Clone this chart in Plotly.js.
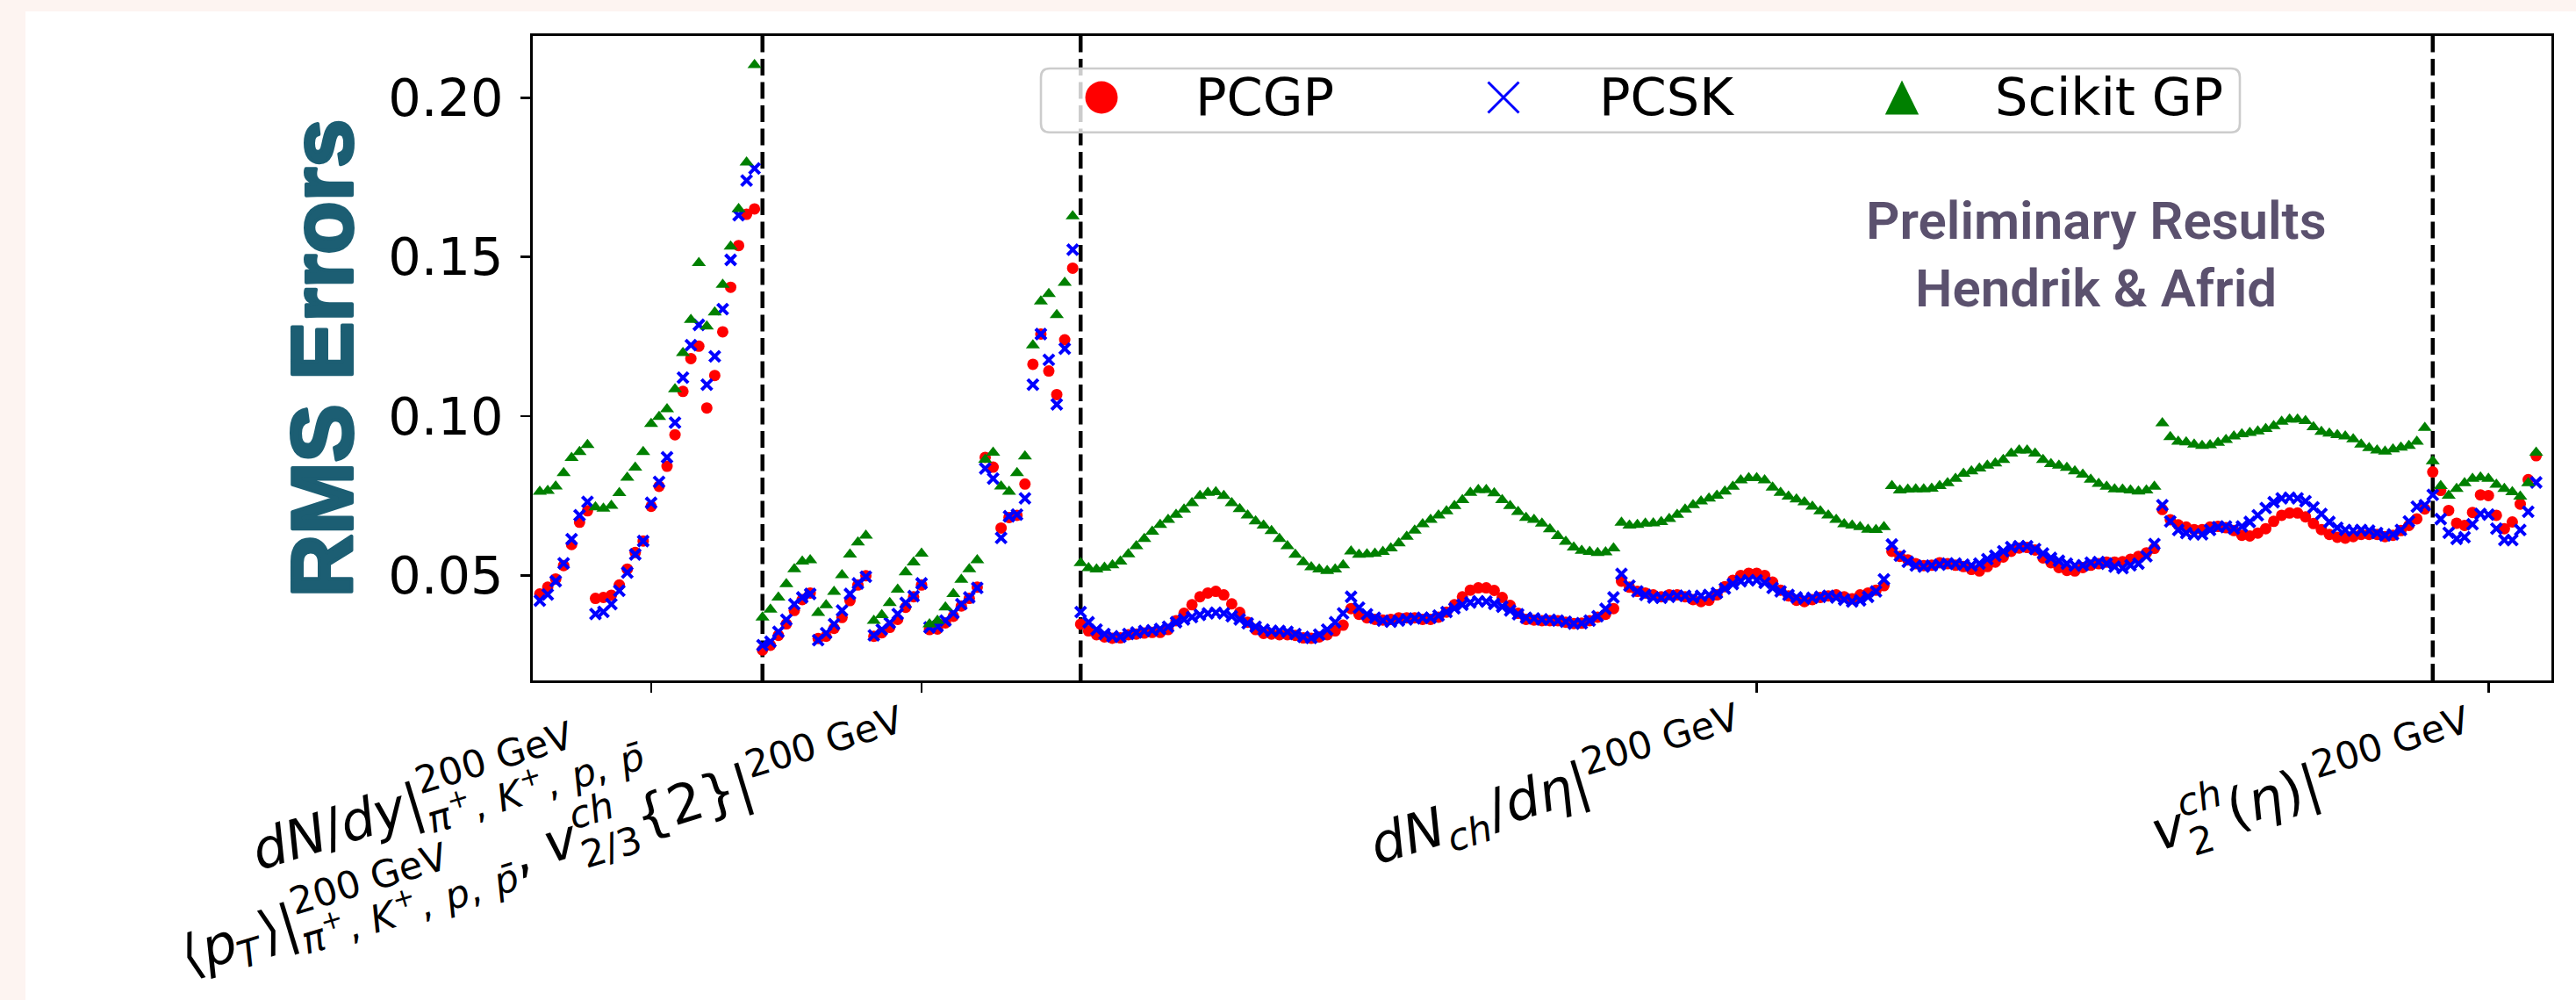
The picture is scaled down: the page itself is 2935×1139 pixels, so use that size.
<!DOCTYPE html>
<html>
<head>
<meta charset="utf-8">
<script src="https://cdn.plot.ly/plotly-3.0.1.min.js"></script>
<style>
html,body{margin:0;padding:0;background:#fdf4f1;width:2935px;height:1139px;overflow:hidden;}
#chart{position:absolute;left:29px;top:13px;width:2906px;height:1126px;background:#ffffff;}
#chart .ytitle{stroke:#1c5e73;stroke-width:4px;stroke-linejoin:round;}
</style>
</head>
<body>
<div id="chart"></div>
<script>
// ---------------- DATA (RMS errors per observable bin) ----------------
// Section 1: dN/dy (pi+, K+, p, pbar) x 7 centralities
const pcgp_dNdy = [0.0442,0.0463,0.0489,0.0531,0.0597,0.0667,0.0703, 0.0428,0.0431,0.0438,0.0470,0.0520,0.0572,0.0608, 0.0717,0.0780,0.0843,0.0942,0.1078,0.1181,0.1220, 0.1026,0.1128,0.1265,0.1405,0.1536,0.1634,0.1651];
const pcsk_dNdy = [0.0421,0.0440,0.0482,0.0538,0.0614,0.0689,0.0731, 0.0379,0.0386,0.0410,0.0452,0.0509,0.0566,0.0608, 0.0728,0.0794,0.0871,0.0980,0.1121,0.1223,0.1287, 0.1099,0.1188,0.1336,0.1491,0.1631,0.1740,0.1778];
const skgp_dNdy = [0.0763,0.0766,0.0780,0.0822,0.0869,0.0888,0.0910, 0.0714,0.0710,0.0719,0.0759,0.0807,0.0839,0.0888, 0.0976,0.0998,0.1022,0.1085,0.1199,0.1303,0.1481, 0.1282,0.1326,0.1413,0.1533,0.1651,0.1797,0.2103];

// Section 2: <pT> (pi+, K+, p, pbar) x 7, v2{2} x 6, v3{2} x 6
const pcgp_meanpT_vn = [0.0266,0.0281,0.0312,0.0348,0.0390,0.0424,0.0445, 0.0302,0.0309,0.0334,0.0368,0.0421,0.0470,0.0499, 0.0309,0.0320,0.0337,0.0362,0.0400,0.0433,0.0470, 0.0330,0.0332,0.0351,0.0372,0.0404,0.0428,0.0463, 0.0871,0.0840,0.0649,0.0682,0.0689,0.0787, 0.1163,0.1258,0.1142,0.1068,0.1240,0.1465];
const pcsk_meanpT_vn = [0.0281,0.0292,0.0323,0.0361,0.0410,0.0431,0.0442, 0.0297,0.0319,0.0347,0.0390,0.0442,0.0475,0.0496, 0.0312,0.0330,0.0351,0.0379,0.0414,0.0435,0.0475, 0.0337,0.0340,0.0358,0.0382,0.0410,0.0431,0.0461, 0.0836,0.0804,0.0618,0.0686,0.0691,0.0742, 0.1099,0.1258,0.1177,0.1037,0.1212,0.1523];
const skgp_meanpT_vn = [0.0368,0.0393,0.0431,0.0473,0.0520,0.0544,0.0548, 0.0383,0.0407,0.0449,0.0501,0.0566,0.0604,0.0625, 0.0358,0.0376,0.0414,0.0456,0.0510,0.0541,0.0569, 0.0347,0.0358,0.0400,0.0442,0.0487,0.0520,0.0548, 0.0864,0.0886,0.0780,0.0763,0.0822,0.0874, 0.1223,0.1361,0.1384,0.1318,0.1419,0.1628];

// Section 3: dNch/deta, 5 centralities x 34 eta bins
const pcgp_dNchdeta = [
 0.0347,0.0326,0.0314,0.0307,0.0303,0.0304,0.0314,0.0316,0.0319,0.0321,0.0321,0.0330,0.0358,0.0381,0.0408,0.0433,0.0445,0.0450,0.0439,0.0411,0.0384,0.0353,0.0330,0.0318,0.0316,0.0314,0.0314,0.0312,0.0304,0.0303,0.0307,0.0314,0.0326,0.0344,
 0.0396,0.0378,0.0367,0.0362,0.0360,0.0362,0.0367,0.0367,0.0367,0.0362,0.0362,0.0369,0.0385,0.0408,0.0433,0.0454,0.0461,0.0461,0.0453,0.0431,0.0406,0.0381,0.0362,0.0360,0.0358,0.0358,0.0358,0.0353,0.0349,0.0350,0.0358,0.0369,0.0378,0.0396,
 0.0482,0.0463,0.0450,0.0445,0.0439,0.0433,0.0439,0.0439,0.0433,0.0424,0.0418,0.0422,0.0439,0.0465,0.0485,0.0500,0.0507,0.0507,0.0500,0.0479,0.0454,0.0436,0.0422,0.0418,0.0424,0.0431,0.0436,0.0439,0.0433,0.0427,0.0439,0.0445,0.0454,0.0468,
 0.0576,0.0560,0.0549,0.0537,0.0531,0.0532,0.0540,0.0537,0.0532,0.0528,0.0519,0.0514,0.0528,0.0542,0.0558,0.0576,0.0586,0.0588,0.0580,0.0555,0.0540,0.0525,0.0516,0.0514,0.0525,0.0532,0.0537,0.0542,0.0542,0.0543,0.0551,0.0560,0.0571,0.0585,
 0.0707,0.0675,0.0659,0.0652,0.0644,0.0644,0.0652,0.0654,0.0650,0.0641,0.0626,0.0624,0.0633,0.0647,0.0670,0.0689,0.0696,0.0696,0.0684,0.0663,0.0644,0.0629,0.0620,0.0617,0.0622,0.0629,0.0629,0.0629,0.0622,0.0626,0.0641,0.0657,0.0678,0.0709];
const pcsk_dNchdeta = [
 0.0385,0.0353,0.0330,0.0316,0.0309,0.0307,0.0316,0.0321,0.0326,0.0328,0.0332,0.0339,0.0353,0.0362,0.0369,0.0376,0.0381,0.0383,0.0381,0.0372,0.0362,0.0350,0.0339,0.0330,0.0326,0.0326,0.0323,0.0316,0.0307,0.0304,0.0314,0.0330,0.0353,0.0381,
 0.0433,0.0399,0.0378,0.0367,0.0358,0.0355,0.0358,0.0362,0.0365,0.0367,0.0367,0.0374,0.0385,0.0397,0.0408,0.0415,0.0419,0.0418,0.0411,0.0402,0.0390,0.0378,0.0367,0.0365,0.0362,0.0361,0.0358,0.0355,0.0349,0.0350,0.0358,0.0372,0.0395,0.0431,
 0.0505,0.0468,0.0450,0.0439,0.0431,0.0430,0.0433,0.0436,0.0436,0.0431,0.0436,0.0439,0.0445,0.0459,0.0473,0.0482,0.0485,0.0485,0.0477,0.0461,0.0450,0.0439,0.0431,0.0427,0.0430,0.0433,0.0436,0.0431,0.0424,0.0418,0.0422,0.0433,0.0450,0.0488,
 0.0597,0.0562,0.0543,0.0531,0.0528,0.0531,0.0534,0.0537,0.0537,0.0534,0.0531,0.0537,0.0551,0.0562,0.0576,0.0589,0.0592,0.0592,0.0583,0.0569,0.0555,0.0546,0.0537,0.0531,0.0532,0.0540,0.0542,0.0537,0.0528,0.0523,0.0532,0.0537,0.0560,0.0599,
 0.0721,0.0670,0.0643,0.0633,0.0629,0.0629,0.0643,0.0652,0.0654,0.0647,0.0654,0.0668,0.0689,0.0712,0.0730,0.0742,0.0744,0.0742,0.0733,0.0714,0.0693,0.0668,0.0650,0.0643,0.0641,0.0643,0.0641,0.0633,0.0626,0.0629,0.0643,0.0670,0.0716,0.0721];
const skgp_dNchdeta = [
 0.0539,0.0523,0.0519,0.0525,0.0532,0.0544,0.0567,0.0592,0.0615,0.0638,0.0659,0.0675,0.0691,0.0707,0.0727,0.0750,0.0760,0.0762,0.0750,0.0727,0.0709,0.0689,0.0670,0.0657,0.0640,0.0615,0.0592,0.0565,0.0542,0.0526,0.0519,0.0514,0.0519,0.0532,
 0.0576,0.0565,0.0567,0.0569,0.0574,0.0585,0.0601,0.0622,0.0641,0.0661,0.0675,0.0689,0.0702,0.0718,0.0737,0.0760,0.0769,0.0769,0.0758,0.0737,0.0718,0.0700,0.0681,0.0675,0.0663,0.0645,0.0624,0.0606,0.0588,0.0578,0.0574,0.0571,0.0573,0.0585,
 0.0666,0.0657,0.0659,0.0663,0.0664,0.0668,0.0678,0.0691,0.0707,0.0721,0.0733,0.0742,0.0751,0.0764,0.0779,0.0799,0.0806,0.0806,0.0799,0.0776,0.0760,0.0748,0.0739,0.0730,0.0716,0.0702,0.0689,0.0675,0.0661,0.0657,0.0652,0.0644,0.0643,0.0652,
 0.0781,0.0767,0.0770,0.0771,0.0771,0.0773,0.0781,0.0790,0.0804,0.0820,0.0827,0.0836,0.0845,0.0852,0.0863,0.0883,0.0893,0.0893,0.0883,0.0863,0.0850,0.0845,0.0838,0.0827,0.0817,0.0801,0.0788,0.0779,0.0771,0.0770,0.0767,0.0764,0.0767,0.0779,
 0.0978,0.0935,0.0920,0.0918,0.0911,0.0907,0.0909,0.0917,0.0926,0.0937,0.0944,0.0948,0.0953,0.0960,0.0969,0.0983,0.0990,0.0990,0.0985,0.0966,0.0951,0.0946,0.0941,0.0937,0.0928,0.0911,0.0900,0.0893,0.0889,0.0896,0.0902,0.0907,0.0920,0.0964];

// Section 4: v2ch(eta), 14 bins
const pcgp_v2eta = [0.0825,0.0767,0.0704,0.0664,0.0657,0.0698,0.0753,0.0751,0.0689,0.0647,0.0668,0.0724,0.0801,0.0876];
const pcsk_v2eta = [0.0753,0.0677,0.0634,0.0615,0.0620,0.0661,0.0693,0.0691,0.0647,0.0611,0.0611,0.0643,0.0700,0.0792];
const skgp_v2eta = [0.0859,0.0781,0.0751,0.0772,0.0790,0.0804,0.0808,0.0804,0.0785,0.0772,0.0762,0.0748,0.0790,0.0886];

const seriesNames = ['PCGP', 'PCSK', 'Scikit GP'];
const yTickVals = [0.05, 0.10, 0.15, 0.20];
const yTickText = ['0.05', '0.10', '0.15', '0.20'];
const annotationLines = ['Preliminary Results', 'Hendrik &amp; Afrid'];

// tick label tokens (mathtext-like)
const R = t => ({t: t, it: false});
const I = t => ({t: t, it: true});
const SUP = (...a) => ({sup: a});
const SUB = (...a) => ({sub: a});
const ST = (a, b) => ({st: [a, b]});
const SP = em => ({sp: em});
const GEV = [R('200 GeV')];
const SPECIES = [I('π'), SUP(R('+')), R(','), SP(0.4), I('K'), SUP(R('+')), R(','), SP(0.4), I('p'), R(','), SP(0.4), I('p\u0304')];
const sectionLabels = [
  [I('dN'), R('/'), I('dy'), R('|'), ST(GEV, SPECIES)],
  [R('⟨'), I('p'), SUB(I('T')), R('⟩'), R('|'), ST(GEV, SPECIES), R(','), SP(0.32), I('v'), ST([I('ch')], [R('2/3')]),
   R('{2}'), R('|'), SUP(...GEV)],
  [I('dN'), SUB(I('ch')), R('/'), I('dη'), R('|'), SUP(...GEV)],
  [I('v'), ST([I('ch')], [R('2')]), R('('), I('η'), R(')'), R('|'), SUP(...GEV)]
];

// ---------------- GEOMETRY ----------------
const W = 2906, H = 1126;
const M = {l: 578, r: 28, t: 28, b: 364};
const plotW = W - M.l - M.r, plotH = H - M.t - M.b;
const px2x = X => (X - M.l) / plotW;
const py2y = Y => 1 - (Y - M.t) / plotH;

const sections = [
  [pcgp_dNdy, pcsk_dNdy, skgp_dNdy],
  [pcgp_meanpT_vn, pcsk_meanpT_vn, skgp_meanpT_vn],
  [pcgp_dNchdeta, pcsk_dNchdeta, skgp_dNchdeta],
  [pcgp_v2eta, pcsk_v2eta, skgp_v2eta]
];
const sizes = sections.map(s => s[0].length);
const starts = [];
sizes.reduce((acc, n) => { starts.push(acc); return acc + n; }, 0);
const total = sizes.reduce((a, b) => a + b, 0);
const tickVals = starts.map((s, i) => s + sizes[i] / 2);
const dividers = starts.slice(1);
const idx = Array.from({length: total}, (_, i) => i);

const seriesY = [0, 1, 2].map(k => [].concat(...sections.map(s => s[k])));

const traces = [
  {type: 'scatter', mode: 'markers', name: seriesNames[0], x: idx, y: seriesY[0],
   marker: {symbol: 'circle', size: 13, color: '#ff0000', line: {width: 0}}},
  {type: 'scatter', mode: 'markers', name: seriesNames[1], x: idx, y: seriesY[1],
   marker: {symbol: 'x-thin', size: 12, color: '#0000ff', line: {width: 4, color: '#0000ff'}}},
  {type: 'scatter', mode: 'markers', name: seriesNames[2], x: idx, y: seriesY[2],
   marker: {symbol: 'triangle-up', size: 14, color: '#008000', line: {width: 0}}}
];

// ---------------- TICK LABEL LAYOUT ----------------
const F = 61.5;
const ANG = 17;
const cnv = document.createElement('canvas').getContext('2d');
function measure(t, size, it) {
  cnv.font = (it ? 'italic ' : '') + size + 'px "DejaVu Sans"';
  const m = cnv.measureText(t);
  const asc = (m.fontBoundingBoxAscent !== undefined) ? m.fontBoundingBoxAscent : 0.928 * size;
  const desc = (m.fontBoundingBoxDescent !== undefined) ? m.fontBoundingBoxDescent : 0.236 * size;
  return {w: m.width, asc: asc, desc: desc};
}
const SS = 0.7, SUPR = 0.43, SUBD = 0.20, STUP = 0.48, STDN = 0.28;
function lay(items, size, up, x, out) {
  for (const it of items) {
    if (typeof it.t === 'string') {
      const m = measure(it.t, size, it.it);
      out.push({t: it.t, it: it.it, size: size, a: x, w: m.w, up: up, asc: m.asc, desc: m.desc});
      x += m.w;
    } else if (it.sp !== undefined) {
      x += it.sp * size;
    } else if (it.sup) {
      x = lay(it.sup, size * SS, up + SUPR * size, x, out) + 0.05 * size * SS;
    } else if (it.sub) {
      x = lay(it.sub, size * SS, up - SUBD * size, x, out) + 0.05 * size * SS;
    } else if (it.st) {
      const x1 = lay(it.st[0], size * SS, up + STUP * size, x, out);
      const x2 = lay(it.st[1], size * SS, up - STDN * size, x, out);
      x = Math.max(x1, x2) + 0.05 * size * SS;
    }
  }
  return x;
}
const TH = ANG * Math.PI / 180, cT = Math.cos(TH), sT = Math.sin(TH);
const GAP = 22.5;
const annotations = [];
sectionLabels.forEach((items, k) => {
  const pcs = [];
  const L = lay(items, F, 0, 0, pcs);
  let Ht = 0, Db = 0;
  pcs.forEach(p => { Ht = Math.max(Ht, p.up + 0.76 * p.size); Db = Math.max(Db, -p.up + 0.24 * p.size); });
  const Ox = -(L * cT + Db * sT);
  const Oy = GAP + L * sT + Ht * cT;
  pcs.forEach(p => {
    const ac = p.a + p.w / 2;
    const bc = -p.up - (p.asc - p.desc) / 2;
    const cx = Ox + ac * cT + bc * sT;
    const cy = Oy - ac * sT + bc * cT;
    annotations.push({xref: 'x', yref: 'paper', x: tickVals[k], y: 0, xshift: cx, yshift: -cy,
      text: p.it ? '<i>' + p.t + '</i>' : p.t, textangle: -ANG, showarrow: false,
      xanchor: 'center', yanchor: 'middle', borderpad: 0, borderwidth: 0,
      font: {family: 'DejaVu Sans', size: p.size, color: '#000000'}});
  });
});

// watermark text
annotations.push({xref: 'paper', yref: 'paper', x: px2x(2359), y: py2y(238.7), xanchor: 'center', yanchor: 'middle',
  text: annotationLines[0], showarrow: false, borderpad: 0, borderwidth: 0,
  font: {family: 'Roboto', size: 60, weight: 600, color: '#5b516e'}});
annotations.push({xref: 'paper', yref: 'paper', x: px2x(2359), y: py2y(315.5), xanchor: 'center', yanchor: 'middle',
  text: annotationLines[1], showarrow: false, borderpad: 0, borderwidth: 0,
  font: {family: 'Roboto', size: 60, weight: 600, color: '#5b516e'}});

// legend texts
const legendTextX = [1333, 1793, 2244];
seriesNames.forEach((n, i) => {
  annotations.push({xref: 'paper', yref: 'paper', x: px2x(legendTextX[i]), y: py2y(98), xanchor: 'left', yanchor: 'middle',
    text: n, showarrow: false, borderpad: 0, borderwidth: 0,
    font: {family: 'DejaVu Sans', size: 59, color: '#000000'}});
});

// ---------------- SHAPES ----------------
const shapes = [];
dividers.forEach(d => shapes.push({type: 'line', xref: 'x', yref: 'paper', x0: d, x1: d, y0: 0, y1: 1, layer: 'below',
  line: {color: '#000000', width: 4.5, dash: '19px,7.5px'}}));

function P(X, Y) { return px2x(X) + ',' + py2y(Y); }
(function legendBox() {
  const x0 = 1157, x1 = 2523, y0 = 65, y1 = 137.7, r = 10;
  const path = 'M' + P(x0 + r, y0) + 'L' + P(x1 - r, y0) + 'Q' + P(x1, y0) + ' ' + P(x1, y0 + r) +
    'L' + P(x1, y1 - r) + 'Q' + P(x1, y1) + ' ' + P(x1 - r, y1) + 'L' + P(x0 + r, y1) +
    'Q' + P(x0, y1) + ' ' + P(x0, y1 - r) + 'L' + P(x0, y0 + r) + 'Q' + P(x0, y0) + ' ' + P(x0 + r, y0) + 'Z';
  shapes.push({type: 'path', xref: 'paper', yref: 'paper', path: path, layer: 'above',
    fillcolor: 'rgba(255,255,255,0.8)', line: {color: '#cccccc', width: 2.6}});
  // markers
  const cy = 98;
  shapes.push({type: 'circle', xref: 'paper', yref: 'paper', layer: 'above',
    x0: px2x(1226 - 18.5), x1: px2x(1226 + 18.5), y0: py2y(cy + 18.5), y1: py2y(cy - 18.5),
    fillcolor: '#ff0000', line: {width: 0}});
  const xc = 1684, h = 17.5;
  shapes.push({type: 'path', xref: 'paper', yref: 'paper', layer: 'above',
    path: 'M' + P(xc - h, cy - h) + 'L' + P(xc + h, cy + h) + 'M' + P(xc - h, cy + h) + 'L' + P(xc + h, cy - h),
    line: {color: '#0000ff', width: 3}});
  const tc = 2138;
  shapes.push({type: 'path', xref: 'paper', yref: 'paper', layer: 'above',
    path: 'M' + P(tc, cy - 19.5) + 'L' + P(tc + 19.2, cy + 19.5) + 'L' + P(tc - 19.2, cy + 19.5) + 'Z',
    fillcolor: '#008000', line: {width: 0}});
})();

const layout = {
  width: W, height: H,
  margin: {l: M.l, r: M.r, t: M.t, b: M.b, pad: 0},
  paper_bgcolor: '#ffffff', plot_bgcolor: '#ffffff',
  showlegend: false,
  font: {family: 'DejaVu Sans, sans-serif', size: 59, color: '#000000'},
  xaxis: {range: [-0.883, 252.92], tickvals: tickVals, ticktext: tickVals.map(() => ''),
    ticks: 'outside', ticklen: 11, tickwidth: 2.6, tickcolor: '#000000',
    showline: true, linecolor: '#000000', linewidth: 2.6, mirror: true,
    showgrid: false, zeroline: false, fixedrange: true},
  yaxis: {range: [0.01704, 0.2194], tickvals: yTickVals, ticktext: yTickText,
    ticks: 'outside', ticklen: 11, tickwidth: 2.6, tickcolor: '#000000',
    tickfont: {family: 'DejaVu Sans', size: 59, color: '#000000'}, ticklabelstandoff: 8,
    showline: true, linecolor: '#000000', linewidth: 2.6, mirror: true,
    showgrid: false, zeroline: false, fixedrange: true,
    title: {text: 'RMS Errors', standoff: 8,
      font: {family: 'Liberation Sans, Arial, sans-serif', size: 99, weight: 700, color: '#1c5e73'}}},
  shapes: shapes,
  annotations: annotations
};

Plotly.newPlot('chart', traces, layout, {displayModeBar: false, staticPlot: true});
</script>
</body>
</html>
